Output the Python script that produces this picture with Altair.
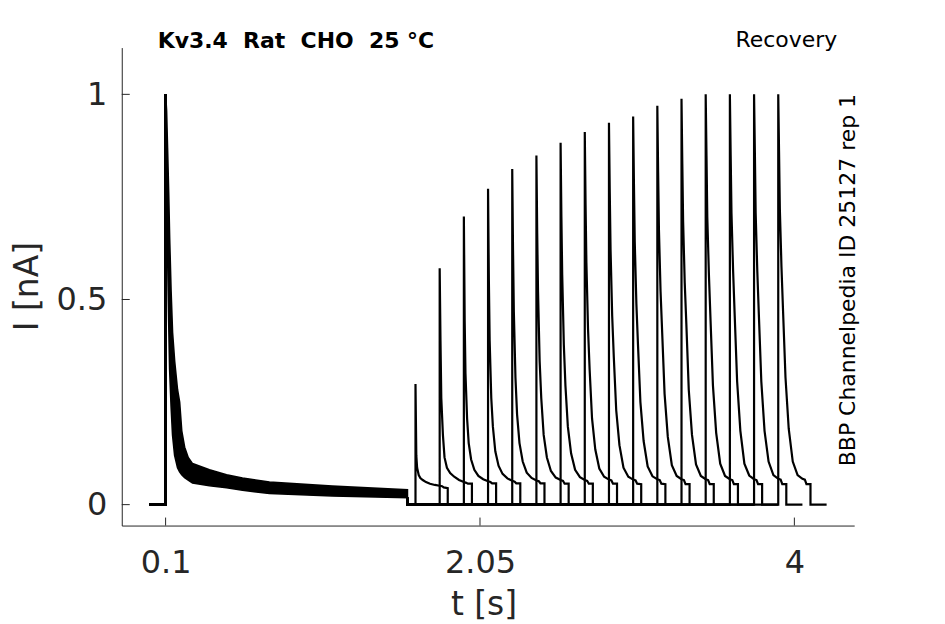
import altair as alt
import pandas as pd

# ---------------- data ----------------
# prepulse (0.1 s .. 1.6 s): envelope of the 16 overlapping sweeps
pre_t  = [0.100, 0.106, 0.112, 0.119, 0.125, 0.134, 0.143, 0.156, 0.174, 0.187,
          0.200, 0.218, 0.240, 0.267, 0.372, 0.478, 0.577, 0.744, 1.134, 1.600]
pre_lo = [0.94, 0.80, 0.62, 0.45, 0.33, 0.24, 0.17, 0.12, 0.09, 0.08,
          0.073, 0.066, 0.060, 0.053, 0.046, 0.041, 0.035, 0.027, 0.021, 0.017]
pre_hi = [1.00, 0.96, 0.87, 0.76, 0.65, 0.52, 0.42, 0.35, 0.28, 0.25,
          0.18, 0.14, 0.115, 0.100, 0.085, 0.073, 0.065, 0.055, 0.045, 0.036]
pre_start = 0.1
pre_end = 1.6
sweep_start = 0.0

# test pulses (one per sweep)
test_start = [1.65, 1.80, 1.95, 2.10, 2.25, 2.40, 2.55, 2.70,
              2.85, 3.00, 3.15, 3.30, 3.45, 3.60, 3.75, 3.90]
test_peak = [0.294, 0.576, 0.702, 0.770, 0.818, 0.851, 0.882, 0.908,
             0.931, 0.946, 0.972, 0.989, 1.000, 1.000, 1.000, 1.000]
test_dt = [0.005, 0.01, 0.02, 0.03, 0.045, 0.065, 0.09, 0.12, 0.15, 0.165, 0.175, 0.2]
test_decay = [
    [0.12, 0.09, 0.072, 0.065, 0.060, 0.055, 0.051, 0.048, 0.046, 0.045, 0.042, 0.040],
    [0.40, 0.26, 0.17, 0.115, 0.090, 0.077, 0.068, 0.060, 0.055, 0.053, 0.051, 0.051],
    [0.45, 0.32, 0.21, 0.15, 0.11, 0.085, 0.070, 0.062, 0.057, 0.055, 0.052, 0.052],
    [0.55, 0.40, 0.26, 0.19, 0.13, 0.095, 0.075, 0.064, 0.058, 0.056, 0.052, 0.052],
    [0.62, 0.47, 0.31, 0.22, 0.15, 0.105, 0.078, 0.065, 0.059, 0.057, 0.052, 0.052],
    [0.66, 0.52, 0.35, 0.26, 0.17, 0.115, 0.082, 0.066, 0.060, 0.058, 0.051, 0.051],
    [0.70, 0.56, 0.39, 0.29, 0.19, 0.125, 0.085, 0.067, 0.060, 0.058, 0.051, 0.051],
    [0.73, 0.59, 0.43, 0.33, 0.21, 0.135, 0.088, 0.068, 0.061, 0.059, 0.051, 0.051],
    [0.76, 0.62, 0.46, 0.36, 0.23, 0.145, 0.090, 0.068, 0.061, 0.059, 0.051, 0.050],
    [0.78, 0.64, 0.49, 0.39, 0.25, 0.155, 0.093, 0.069, 0.062, 0.060, 0.051, 0.050],
    [0.81, 0.67, 0.52, 0.42, 0.27, 0.165, 0.096, 0.070, 0.062, 0.060, 0.050, 0.050],
    [0.83, 0.69, 0.54, 0.44, 0.28, 0.170, 0.098, 0.070, 0.062, 0.060, 0.050, 0.050],
    [0.85, 0.70, 0.56, 0.45, 0.29, 0.175, 0.100, 0.070, 0.062, 0.060, 0.050, 0.050],
    [0.85, 0.71, 0.57, 0.46, 0.30, 0.180, 0.100, 0.071, 0.062, 0.060, 0.050, 0.050],
    [0.86, 0.71, 0.57, 0.46, 0.30, 0.180, 0.105, 0.072, 0.063, 0.061, 0.050, 0.050],
    [0.86, 0.72, 0.58, 0.47, 0.31, 0.185, 0.105, 0.072, 0.063, 0.061, 0.050, 0.050],
]
test_len = 0.2
tail_len = 0.1

x_ticks = [0.1, 2.05, 4.0]
y_ticks = [0.0, 0.5, 1.0]
x_domain = [-0.172, 4.371]
y_domain = [-0.051, 1.114]

# ---------------- tables ----------------
rows = []
for k in range(len(test_start)):
    seg = [(sweep_start, 0.0), (pre_start, 0.0), (pre_start, 1.0)]
    for i, (t, v) in enumerate(seg):
        rows.append(dict(t=t, v=v, seg=f"{k}a", o=i))
    ts = test_start[k]
    seg = [(pre_end, pre_lo[-1]), (pre_end, 0.0), (ts, 0.0), (ts, test_peak[k])]
    seg += [(ts + d, val) for d, val in zip(test_dt, test_decay[k])]
    seg += [(ts + test_len, 0.0), (ts + test_len + tail_len, 0.0)]
    for i, (t, v) in enumerate(seg):
        rows.append(dict(t=t, v=v, seg=f"{k}b", o=i))
traces = pd.DataFrame(rows)
band = pd.DataFrame(dict(t=pre_t, v=pre_lo, hi=pre_hi))
xt = pd.DataFrame(dict(t=x_ticks))
yt = pd.DataFrame(dict(v=y_ticks))
one = pd.DataFrame(dict(a=[0]))

W, H = 734, 479
FONT = "DejaVu Sans"
GREY = "#262626"
xs = alt.Scale(domain=x_domain, nice=False, zero=False)
ys = alt.Scale(domain=y_domain, nice=False, zero=False)
ax_x = alt.Axis(values=x_ticks, format=".3~g", title="", labelFont=FONT, labelFontSize=32,
                labelColor=GREY, labelPadding=22, tickSize=0, domainColor=GREY,
                domainWidth=1, grid=False, labelFlush=False)
ax_y = alt.Axis(values=y_ticks, format=".2~g", title="", labelFont=FONT, labelFontSize=32,
                labelColor=GREY, labelPadding=15, tickSize=0, domainColor=GREY,
                domainWidth=1, grid=False, labelFlush=False)
X = alt.X("t:Q", scale=xs, axis=ax_x)
Y = alt.Y("v:Q", scale=ys, axis=ax_y)

area = alt.Chart(band).mark_area(color="black", stroke="black", strokeWidth=1.6).encode(
    x=X, y=Y, y2="hi:Q",
)

lines = alt.Chart(traces).mark_line(color="black", strokeWidth=2.2, clip=True).encode(
    x=X, y=Y, detail="seg:N", order="o:Q",
)

xtick = alt.Chart(xt).mark_rule(color=GREY, strokeWidth=1).encode(
    x=X, y=alt.value(H), y2=alt.value(H - 8))
ytick = alt.Chart(yt).mark_rule(color=GREY, strokeWidth=1).encode(
    y=Y, x=alt.value(0), x2=alt.value(8))

NB = "\u00a0"
title_txt = f"Kv3.4{NB} Rat{NB} CHO{NB} 25 °C"
title = alt.Chart(one).mark_text(text=title_txt, font=FONT, fontSize=22,
                                 fontWeight="bold", align="left", baseline="alphabetic",
                                 color="black").encode(x=alt.value(36), y=alt.value(0))
rec = alt.Chart(one).mark_text(text="Recovery", font=FONT, fontSize=22, align="right",
                               baseline="alphabetic", color="black").encode(
    x=alt.value(717), y=alt.value(-1))
side = alt.Chart(one).mark_text(text="BBP Channelpedia ID 25127 rep 1", font=FONT, fontSize=22,
                                angle=270, align="center", baseline="alphabetic",
                                color="black").encode(x=alt.value(735), y=alt.value(233))
ytitle = alt.Chart(one).mark_text(text="I [nA]", font=FONT, fontSize=33, angle=270,
                                  align="center", baseline="middle", color=GREY).encode(
    x=alt.value(-94), y=alt.value(H / 2))
xtitle = alt.Chart(one).mark_text(text="t [s]", font=FONT, fontSize=33, align="center",
                                  baseline="alphabetic", color=GREY).encode(
    x=alt.value(363), y=alt.value(569))

chart = alt.layer(area, lines, xtick, ytick, title, rec, side, ytitle, xtitle).properties(
    width=W, height=H,
    autosize=alt.AutoSizeParams(type="none"),
    padding={"left": 114, "top": 39, "right": 83, "bottom": 105},
    background="white",
).configure_view(strokeWidth=0)

chart.save("out.html", embed_options={"renderer": "svg", "actions": False})
